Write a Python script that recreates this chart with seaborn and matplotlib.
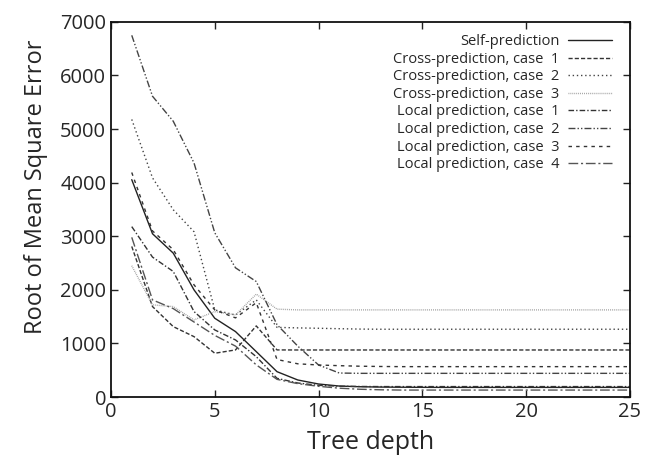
import pandas as pd
import matplotlib
matplotlib.use('Agg')
import matplotlib.pyplot as plt
import seaborn as sns

# Tree depth 1..25
depth = list(range(1, 26))

self_pred = [4056, 3047, 2685, 2000, 1470, 1221, 847, 473, 318, 243, 205, 192, 186, 183, 181,
             180, 180, 180, 180, 180, 180, 180, 180, 180, 180]
cross_1 = [2810, 1688, 1314, 1127, 817, 879, 1327, 879, 878, 878, 878, 878, 878, 878, 878,
           878, 878, 878, 878, 878, 878, 878, 878, 878, 878]
cross_2 = [5180, 4090, 3495, 3084, 1626, 1530, 1813, 1300, 1290, 1283, 1275, 1268, 1265, 1265, 1265,
           1265, 1265, 1265, 1265, 1265, 1265, 1265, 1265, 1265, 1265]
cross_3 = [2450, 1720, 1688, 1439, 1595, 1533, 1920, 1640, 1626, 1626, 1626, 1626, 1626, 1626, 1626,
           1626, 1626, 1626, 1626, 1626, 1626, 1626, 1626, 1626, 1626]
local_1 = [3180, 2611, 2343, 1595, 1252, 1065, 753, 349, 262, 218, 202, 197, 195, 195, 195,
           195, 195, 195, 195, 195, 195, 195, 195, 195, 195]
local_2 = [6750, 5613, 5146, 4368, 3065, 2411, 2155, 1350, 950, 598, 448, 442, 442, 442, 442,
           442, 442, 442, 442, 442, 442, 442, 442, 442, 442]
local_3 = [4190, 3100, 2750, 2093, 1626, 1477, 1760, 700, 620, 598, 585, 575, 570, 567, 567,
           567, 567, 567, 567, 567, 567, 567, 567, 567, 567]
local_4 = [2980, 1813, 1650, 1400, 1150, 950, 600, 330, 250, 200, 165, 145, 135, 130, 130,
           130, 130, 130, 130, 130, 130, 130, 130, 130, 130]

labels = ['Self-prediction',
          'Cross-prediction, case  1', 'Cross-prediction, case  2', 'Cross-prediction, case  3',
          'Local prediction, case  1', 'Local prediction, case  2',
          'Local prediction, case  3', 'Local prediction, case  4']
series = [self_pred, cross_1, cross_2, cross_3, local_1, local_2, local_3, local_4]
colors = ['#222222', '#333333', '#444444', '#999999', '#333333', '#444444', '#333333', '#555555']
dashes = ['', (3, 1.5), (1, 2), (0.6, 0.8), (4, 1.5, 1, 1.5), (5, 1.5, 1, 1.5, 1, 1.5),
          (2.5, 3), (7, 2, 1.5, 2)]

sns.set_style('ticks')
plt.rcParams['font.family'] = ['Open Sans', 'DejaVu Sans']

fig = plt.figure(figsize=(6.51, 4.66), dpi=100)
ax = fig.add_axes([0.1705, 0.148, 0.797, 0.805])

for lab, vals, col, dsh in zip(labels, series, colors, dashes):
    df = pd.DataFrame({'depth': depth, 'rmse': vals})
    sns.lineplot(data=df, x='depth', y='rmse', ax=ax, color=col, linewidth=1.0,
                 label=lab)
    line = ax.get_lines()[-1]
    if dsh:
        line.set_dashes(dsh)

ax.set_xlim(0, 25)
ax.set_ylim(0, 7000)
ax.set_xticks(range(0, 26, 5))
ax.set_yticks(range(0, 7001, 1000))
ax.tick_params(direction='in', top=True, right=True, length=5, width=1,
               labelsize=14.5, color='#222222')
for s in ax.spines.values():
    s.set_visible(True)
    s.set_linewidth(1.3)
    s.set_color('#111111')
ax.set_xlabel('Tree depth', fontsize=18, labelpad=6)
ax.set_ylabel('Root of Mean Square Error', fontsize=17)
ax.yaxis.set_label_coords(-0.122, 0.56)

leg = ax.legend(loc='upper right', frameon=False, fontsize=10.5, markerfirst=False,
                handlelength=3.0, handletextpad=0.6, labelspacing=0.18,
                borderaxespad=0.3, bbox_to_anchor=(0.985, 0.995))
for col in leg._legend_handle_box.get_children():
    col.align = 'right'

fig.savefig('out.png', dpi=100)
